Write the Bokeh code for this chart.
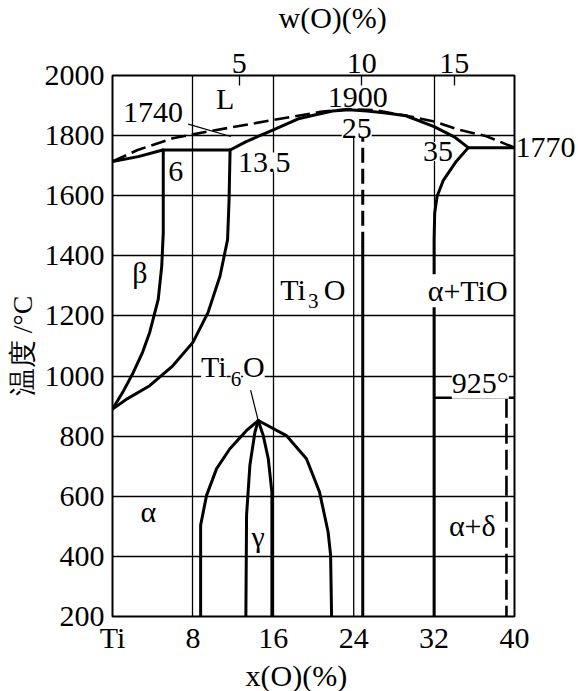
from bokeh.plotting import figure
from bokeh.models import Range1d, LinearAxis, FixedTicker, Label, Title
from bokeh.embed import file_html
from bokeh.resources import INLINE

# ---------------- data ----------------
x_ticks = [0, 8, 16, 24, 32, 40]
x_tick_labels = ["Ti", "8", "16", "24", "32", "40"]
y_ticks = [200, 400, 600, 800, 1000, 1200, 1400, 1600, 1800, 2000]
w_tick_pos = [12.6, 24.8, 34.0]
w_tick_labels = ["5", "10", "15"]
right_tick_pos = [1760]
right_tick_labels = ["1770"]

# dashed liquidus
liq_x = [0, 2.5, 6.0, 9.4, 16.0, 20.7, 23.5, 26.0, 29.1, 32.0, 34.3, 37.2, 40.0]
liq_t = [1714, 1752, 1791, 1813, 1852, 1879, 1888, 1885, 1867, 1847, 1821, 1798, 1760]
# left lens (solid)
lens_x = [0, 2.56, 5.0]
lens_t = [1714, 1730, 1752]
# peritectic line
per_x = [5.0, 11.7]
per_t = [1752, 1752]
# solid dome Ti3O
sol_x = [11.7, 13.3, 16.0, 18.6, 20.0, 21.9, 23.5, 25.3, 27.0, 29.2, 32.0, 34.0, 35.4]
sol_t = [1752, 1780, 1819, 1857, 1868, 1882, 1886, 1882, 1876, 1866, 1830, 1796, 1760]
# right horizontal
rh_x = [35.4, 40.0]
rh_t = [1760, 1760]
# alpha+TiO boundary
rb_x = [35.4, 34.2, 32.9, 32.3, 32.06, 32.0, 32.0]
rb_t = [1760, 1714, 1650, 1598, 1542, 1454, 200]
# beta boundaries
bl_x = [0, 1.0, 2.07, 3.0, 3.7, 4.55, 4.9, 5.05, 5.05]
bl_t = [890, 945, 1012, 1080, 1145, 1255, 1366, 1476, 1752]
br_x = [0, 1.5, 3.7, 6.0, 8.0, 9.5, 10.7, 11.45, 11.6, 11.7]
br_t = [890, 925, 968, 1034, 1112, 1211, 1333, 1454, 1587, 1752]
# Ti3O line
t3s_x = [24.9, 24.9]
t3s_t = [200, 1430]
t3d_x = [24.9, 24.9]
t3d_t = [1430, 1800]
# Ti6O dome
do_x = [8.77, 8.77, 9.36, 10.36, 11.68, 13.34, 14.5, 17.3, 19.3, 20.6, 21.45, 21.7, 21.8]
do_t = [200, 504, 603, 692, 758, 819, 852, 802, 725, 614, 482, 405, 200]
dl_x = [13.27, 13.34, 13.67, 14.17, 14.5]
dl_t = [200, 537, 703, 813, 852]
dr_x = [15.86, 15.86, 15.5, 15.0, 14.5]
dr_t = [200, 614, 725, 802, 852]
# 925 line and dashed delta boundary
h925_x = [32.0, 40.0]
h925_t = [928, 928]
dd_x = [39.2, 39.2]
dd_t = [928, 200]
# leader lines
lead1_x = [7.53, 11.78]
lead1_t = [1838, 1797]
lead2_x = [13.74, 14.5]
lead2_t = [953, 852]
# partial grid line at 24
g24_x = [24, 24]
g24_t = [200, 1800]

SERIF = "Liberation Serif"

p = figure(width=578, height=691, output_backend="svg", toolbar_location=None,
           x_range=Range1d(0, 40), y_range=Range1d(200, 2000),
           min_border_left=112, min_border_right=63, min_border_top=73,
           min_border_bottom=75)
p.background_fill_color = "white"
p.border_fill_color = "white"
p.outline_line_color = "black"
p.outline_line_width = 2

# title on top: w(O)(%)
p.title.text = "w(O)(%)"
p.title.text_font = SERIF
p.title.text_font_size = "30px"
p.title.text_font_style = "normal"
p.title.text_color = "black"
p.title.align = "left"
p.title.vertical_align = "top"
p.title.offset = 166
p.title.standoff = 0


def style_axis(ax, standoff):
    ax.axis_line_color = None
    ax.major_tick_in = 0
    ax.major_tick_out = 0
    ax.minor_tick_in = 0
    ax.minor_tick_out = 0
    ax.major_label_text_font = SERIF
    ax.major_label_text_font_size = "30px"
    ax.major_label_text_color = "black"
    ax.major_label_standoff = standoff

p.xaxis.ticker = FixedTicker(ticks=x_ticks)
p.xaxis.major_label_overrides = {t: l for t, l in zip(x_ticks, x_tick_labels)}
style_axis(p.xaxis[0], 4)

p.yaxis.ticker = FixedTicker(ticks=y_ticks)
style_axis(p.yaxis[0], 8)
p.yaxis.axis_label = "温度 /°C"
p.yaxis.axis_label_text_font = SERIF
p.yaxis.axis_label_text_font_size = "28px"
p.yaxis.axis_label_text_font_style = "normal"
p.yaxis.axis_label_text_color = "black"
p.yaxis.axis_label_standoff = 4

top = LinearAxis(ticker=FixedTicker(ticks=w_tick_pos),
                 major_label_overrides={t: l for t, l in zip(w_tick_pos, w_tick_labels)})
style_axis(top, 3)
top.major_tick_in = 10
top.major_tick_line_width = 1.3
top.major_tick_line_color = "black"
p.add_layout(top, "above")

# blank spacer between the top tick labels and the top title
spacer = Title(text=" ", text_font=SERIF, text_font_size="10px", standoff=2)
p.add_layout(spacer, "above")

right = LinearAxis(ticker=FixedTicker(ticks=right_tick_pos),
                   major_label_overrides={t: l for t, l in zip(right_tick_pos, right_tick_labels)})
style_axis(right, 1)
p.add_layout(right, "right")

bottom_title = Title(text="x(O)(%)", text_font=SERIF, text_font_size="30px",
                     text_font_style="normal", text_color="black",
                     align="left", offset=133, standoff=0)
p.add_layout(bottom_title, "below")

p.ygrid.ticker = FixedTicker(ticks=y_ticks)
p.xgrid.ticker = FixedTicker(ticks=[8, 16, 32])
for g in (p.xgrid[0], p.ygrid[0]):
    g.grid_line_color = "black"
    g.grid_line_width = 1.3
    g.grid_line_alpha = 1.0

p.line(g24_x, g24_t, line_color="black", line_width=1.3)

thick = dict(line_color="black", line_width=3, line_join="round", line_cap="round")
p.line(liq_x, liq_t, line_color="black", line_width=2.6, line_dash="15 6")
p.line(lens_x, lens_t, **thick)
p.line(per_x, per_t, **thick)
p.line(sol_x, sol_t, **thick)
p.line(rh_x, rh_t, **thick)
p.line(rb_x, rb_t, **thick)
p.line(bl_x, bl_t, **thick)
p.line(br_x, br_t, **thick)
p.line(t3s_x, t3s_t, **thick)
p.line(t3d_x, t3d_t, line_color="black", line_width=3, line_dash="15 6")
p.line(do_x, do_t, **thick)
p.line(dl_x, dl_t, **thick)
p.line(dr_x, dr_t, **thick)
p.line(h925_x, h925_t, line_color="black", line_width=2.6)
p.line(dd_x, dd_t, line_color="black", line_width=2.6, line_dash="20 6")
p.line(lead1_x, lead1_t, line_color="black", line_width=1.2)
p.line(lead2_x, lead2_t, line_color="black", line_width=1.2)


def lab(text, x, y, size=30, bg=False, align="center"):
    l = Label(x=x, y=y, text=text, text_font=SERIF, text_font_size=f"{size}px",
              text_align=align, text_baseline="middle", text_color="black")
    if bg:
        l.background_fill_color = "white"
    p.add_layout(l)

lab("1740", 4.03, 1877)
lab("L", 11.2, 1924)
lab("1900", 24.4, 1927)
lab("25", 24.3, 1824, bg=True)
lab("6", 6.3, 1681)
lab("13.5", 15.1, 1712, bg=True)
lab("35", 32.4, 1747, bg=True)
lab("β", 2.73, 1344)
lab("Ti", 17.97, 1287)
lab("3", 19.98, 1251, size=21)
lab("O", 22.1, 1287)
lab("α+TiO", 35.34, 1284, bg=True)
lab("Ti", 10.09, 1032, bg=True)
lab("6", 12.28, 989, size=21, bg=True)
lab("O", 14.07, 1032, bg=True)
lab("925°", 36.6, 979, bg=True)
lab("α", 3.56, 548)
lab("γ", 14.5, 465)
lab("α+δ", 35.8, 502)

open("out.html", "w").write(file_html(p, INLINE))
